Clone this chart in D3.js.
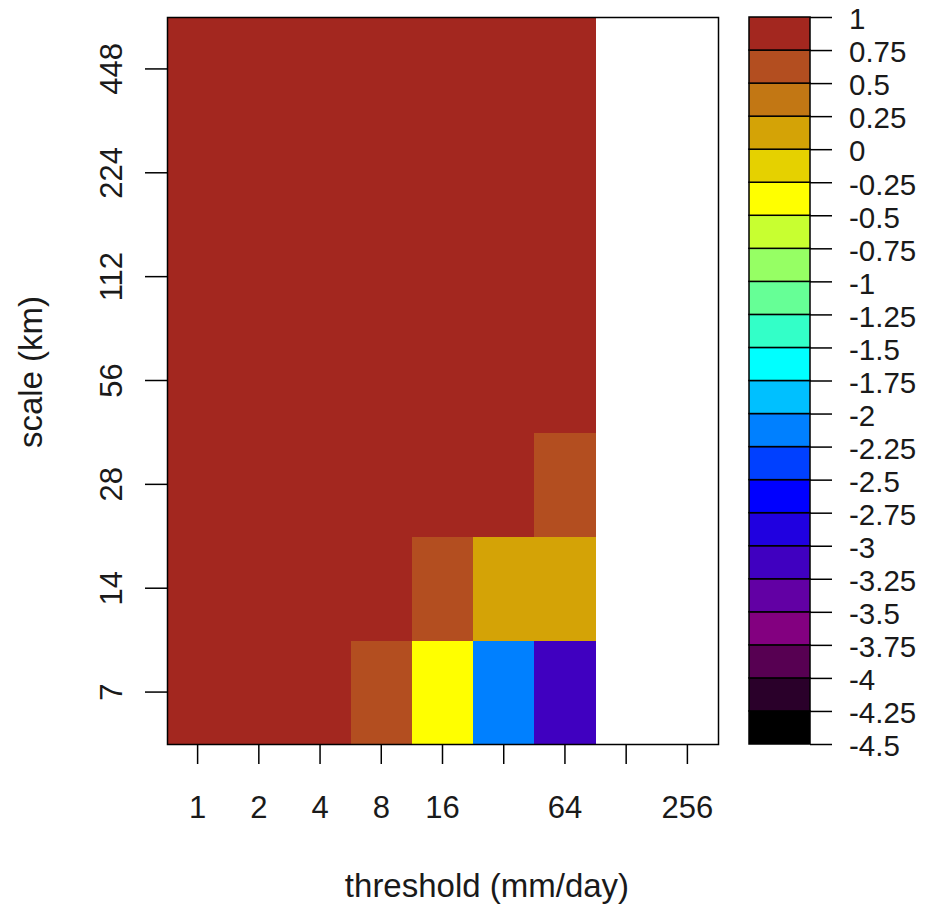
<!DOCTYPE html>
<html>
<head>
<meta charset="utf-8">
<script src="https://cdn.jsdelivr.net/npm/d3@7"></script>
<style>
  html, body { margin: 0; padding: 0; background: #fff; }
  svg text { font-family: "Liberation Sans", Arial, Helvetica, sans-serif; fill: #1a1a1a; }
</style>
</head>
<body>
<svg id="chart" width="934" height="906"></svg>
<script>
// ---- data ----
const thresholds = [1, 2, 4, 8, 16, 32, 64, 128, 256];
const thresholdLabels = ["1", "2", "4", "8", "16", "", "64", "", "256"];
const scales = [7, 14, 28, 56, 112, 224, 448];
// one row per scale (bottom to top), one value per threshold; null = missing
const row7   = [0.92, 0.88, 0.82, 0.62, -0.40, -2.10, -3.10, null, null];
const row14  = [0.96, 0.94, 0.90, 0.80, 0.60, 0.12, 0.10, null, null];
const row28  = [0.98, 0.97, 0.95, 0.92, 0.86, 0.80, 0.60, null, null];
const row56  = [0.99, 0.99, 0.98, 0.96, 0.93, 0.90, 0.85, null, null];
const row112 = [1.00, 0.99, 0.99, 0.98, 0.97, 0.95, 0.92, null, null];
const row224 = [1.00, 1.00, 0.99, 0.99, 0.98, 0.97, 0.95, null, null];
const row448 = [1.00, 1.00, 1.00, 0.99, 0.99, 0.98, 0.97, null, null];
const rows = [row7, row14, row28, row56, row112, row224, row448];
// colour breaks and bin colours (bottom to top)
const breaks = d3.range(-4.5, 1.0001, 0.25).map(v => +v.toFixed(2));
const binColors = [
  "#000000", "#2a002a", "#570052", "#830080", "#6200a4", "#4000c0",
  "#2000e0", "#0000ff", "#0040ff", "#0080ff", "#00c0ff", "#00ffff",
  "#33ffc8", "#66ff96", "#96ff64", "#c8ff30", "#ffff00", "#e5d100",
  "#d4a306", "#c27714", "#b34e20", "#a3271f"
];
const breakLabels = breaks.map(b => String(b));

// ---- layout ----
const svg = d3.select("#chart");
const plot = { left: 167, right: 718, top: 17, bottom: 744 };
const bar = { left: 749, right: 810 };

const x = d3.scaleBand().domain(thresholds).range([plot.left, plot.right]).paddingInner(0).paddingOuter(0);
const y = d3.scaleBand().domain(scales).range([plot.bottom, plot.top]).paddingInner(0).paddingOuter(0);
const color = d3.scaleThreshold().domain(breaks.slice(1, -1)).range(binColors);

const cells = [];
rows.forEach((r, i) => r.forEach((v, j) => cells.push({ s: scales[i], t: thresholds[j], v })));

svg.append("g").selectAll("rect")
  .data(cells.filter(d => d.v !== null))
  .join("rect")
  .attr("x", d => x(d.t))
  .attr("y", d => y(d.s))
  .attr("width", x.bandwidth() + 0.5)
  .attr("height", y.bandwidth() + 0.5)
  .attr("fill", d => color(d.v))
  .attr("shape-rendering", "crispEdges");

svg.append("rect")
  .attr("x", plot.left + 0.5).attr("y", plot.top + 0.5)
  .attr("width", plot.right - plot.left).attr("height", plot.bottom - plot.top)
  .attr("fill", "none").attr("stroke", "#000").attr("stroke-width", 1.5);

// x axis
const xAxis = d3.axisBottom(x).tickSize(19).tickPadding(0).tickFormat((d, i) => thresholdLabels[i]);
const gx = svg.append("g").attr("transform", `translate(0,${plot.bottom + 1})`).call(xAxis);
gx.select(".domain").remove();
gx.selectAll(".tick line").attr("stroke", "#000").attr("stroke-width", 1.5);
gx.selectAll(".tick text").attr("font-size", 31).attr("dy", null).attr("y", 818)
  .attr("transform", `translate(0,${-(plot.bottom + 1)})`);

// y axis
const yAxis = d3.axisLeft(y).tickSize(22).tickPadding(0);
const gy = svg.append("g").attr("transform", `translate(${plot.left},0)`).call(yAxis);
gy.select(".domain").remove();
gy.selectAll(".tick line").attr("stroke", "#000").attr("stroke-width", 1.5);
gy.selectAll(".tick text")
  .attr("x", null).attr("dy", null)
  .attr("font-size", 31)
  .attr("text-anchor", "middle")
  .attr("transform", `translate(${122 - plot.left},0) rotate(-90)`);

// axis titles
svg.append("text").attr("x", 487).attr("y", 897).attr("text-anchor", "middle")
  .attr("font-size", 33).text("threshold (mm/day)");
svg.append("text").attr("transform", "translate(42,372) rotate(-90)").attr("text-anchor", "middle")
  .attr("font-size", 33).text("scale (km)");

// colour bar
const yb = d3.scaleLinear().domain([-4.5, 1]).range([plot.bottom, plot.top]);
const bins = binColors.map((c, i) => ({ lo: breaks[i], hi: breaks[i + 1], c }));
svg.append("g").selectAll("rect").data(bins).join("rect")
  .attr("x", bar.left).attr("width", bar.right - bar.left)
  .attr("y", d => yb(d.hi)).attr("height", d => yb(d.lo) - yb(d.hi))
  .attr("fill", d => d.c).attr("stroke", "#000").attr("stroke-width", 1.5);

const barAxis = d3.axisRight(yb).tickValues(breaks).tickSize(22).tickPadding(17)
  .tickFormat((d, i) => breakLabels[i]);
const gb = svg.append("g").attr("transform", `translate(${bar.right},0)`).call(barAxis);
gb.select(".domain").remove();
gb.selectAll(".tick line").attr("stroke", "#000").attr("stroke-width", 1.5);
gb.selectAll(".tick text").attr("font-size", 29.5).attr("dy", "0.4em").attr("fill", "#1a1a1a");
</script>
</body>
</html>
